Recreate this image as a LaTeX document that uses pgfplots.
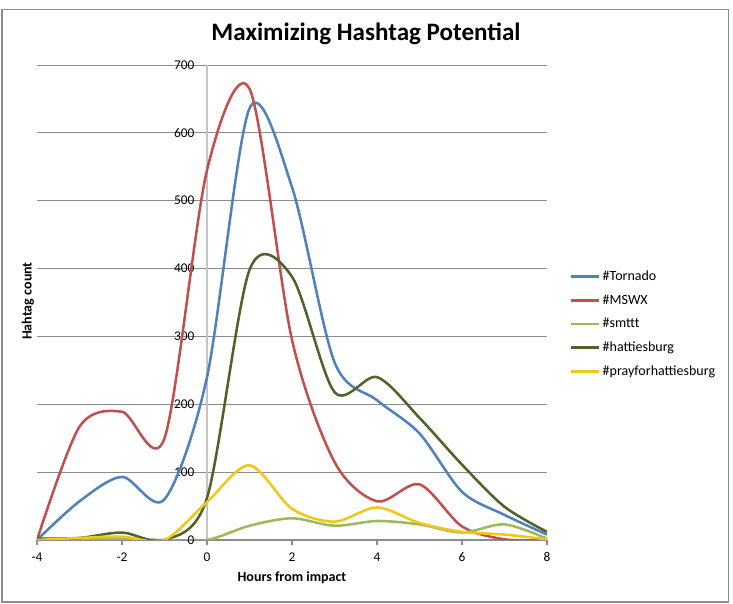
\documentclass[border=0pt]{standalone}
\usepackage{fontspec}
\setmainfont{Carlito}
\usepackage{pgfplots}
\pgfplotsset{compat=1.18}
\definecolor{cTornado}{HTML}{4F81BD}
\definecolor{cMSWX}{HTML}{C0504D}
\definecolor{cSmttt}{HTML}{9BBB59}
\definecolor{cHatt}{HTML}{4F6228}
\definecolor{cPray}{HTML}{F2C614}
\definecolor{GridGray}{HTML}{8C8C8C}
\definecolor{AxisGray}{HTML}{C4C4C4}
\definecolor{FrameGray}{HTML}{8C8C8C}

\begin{document}
\begin{tikzpicture}
\path (0pt,0pt) rectangle (549.75pt,453pt);
\draw[FrameGray,line width=1pt] (1.5pt,1.5pt) rectangle (546.5pt,446pt);
\node[font=\bfseries\fontsize{18.8}{22}\selectfont] at (274.5pt,427.5pt) {Maximizing Hashtag Potential};
\begin{axis}[
  at={(27.75pt,48pt)}, anchor=south west,
  scale only axis, width=382.5pt, height=356.25pt,
  xmin=-4, xmax=8, ymin=0, ymax=700,
  clip mode=individual,
  axis x line=bottom, axis y line=center,
  axis line style={-},
  x axis line style={draw=GridGray,line width=0.8pt},
  y axis line style={draw=AxisGray,line width=0.8pt},
  hide obscured x ticks=false, hide obscured y ticks=false,
  xtick={-4,-2,...,8}, ytick={0,100,...,700},
  tick align=outside,
  xtick style={draw=GridGray,line width=0.8pt},
  ytick style={draw=none},
  major tick length=4pt,
  ymajorgrids,
  grid style={draw=GridGray,line width=0.7pt},
  tick label style={font=\fontsize{10}{12}\selectfont},
  /pgf/number format/assume math mode=true,
  yticklabel style={xshift=-2pt},
  xticklabel style={yshift=-2pt},
  legend style={at={(axis description cs:1.035,0.579)}, anchor=north west,
    draw=none, fill=none, font=\fontsize{10.5}{12}\selectfont, row sep=5.2pt},
  legend cell align=left,
  legend image code/.code={\draw[#1,line width=2.2pt] (0pt,0pt) -- (21pt,0pt);},
  every axis plot/.append style={smooth,line width=1.9pt},
]
\addplot[cTornado] coordinates {(-4,0)(-3,57)(-2,93)(-1,60)(0,240)(1,636)(2,520)(3,262)(4,206)(5,157)(6,71)(7,37)(8,8)};
\addplot[cMSWX] coordinates {(-4,0)(-3,167)(-2,189)(-1,150)(0,545)(1,665)(2,295)(3,115)(4,57)(5,82)(6,20)(7,1)(8,0)};
\addplot[cSmttt] coordinates {(-4,1)(-3,2)(-2,2)(-1,0)(0,0)(1,21)(2,32)(3,21)(4,28)(5,23)(6,11)(7,23)(8,2)};
\addplot[cHatt] coordinates {(-4,2)(-3,3)(-2,11)(-1,0)(0,62)(1,398)(2,388)(3,218)(4,240)(5,180)(6,111)(7,49)(8,12)};
\addplot[cPray] coordinates {(-4,0)(-3,3)(-2,5)(-1,0)(0,56)(1,110)(2,46)(3,27)(4,48)(5,25)(6,12)(7,8)(8,1)};
\legend{\#Tornado,\#MSWX,\#smttt,\#hattiesburg,\#prayforhattiesburg}
\node[rotate=90,font=\bfseries\fontsize{10.5}{12}\selectfont] at (axis description cs:-0.018,0.503) {Hahtag count};
\node[font=\bfseries\fontsize{10.5}{12}\selectfont] at (axis description cs:0.5,-0.08) {Hours from impact};
\end{axis}
\end{tikzpicture}
\end{document}
